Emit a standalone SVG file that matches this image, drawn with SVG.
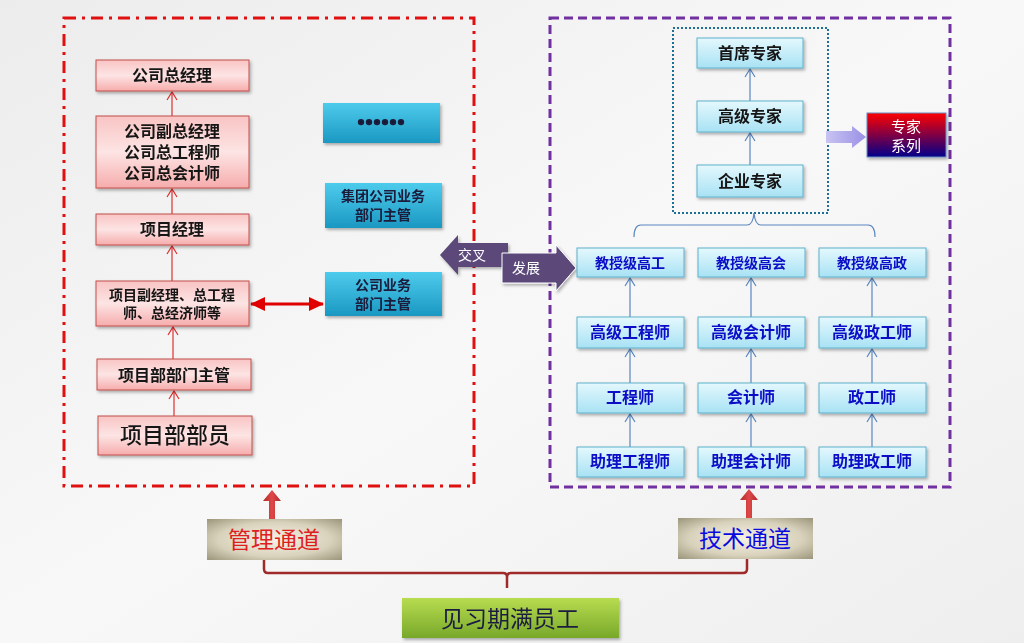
<svg xmlns="http://www.w3.org/2000/svg" width="1024" height="643" viewBox="0 0 1024 643">
<defs>
<linearGradient id="bg" x1="0" y1="0" x2="1" y2="1"><stop offset="0" stop-color="#ececec"/><stop offset="0.5" stop-color="#f8f8f8"/><stop offset="1" stop-color="#eeeeee"/></linearGradient>
<linearGradient id="pink" x1="0" y1="0" x2="0" y2="1"><stop offset="0" stop-color="#f9c4c4"/><stop offset="0.5" stop-color="#fde4e4"/><stop offset="1" stop-color="#f6acac"/></linearGradient>
<linearGradient id="lblue" x1="0" y1="0" x2="0" y2="1"><stop offset="0" stop-color="#e4f8fd"/><stop offset="1" stop-color="#a8e2f4"/></linearGradient>
<linearGradient id="cyan" x1="0" y1="0" x2="0" y2="1"><stop offset="0" stop-color="#4ecbec"/><stop offset="1" stop-color="#1a98c2"/></linearGradient>
<linearGradient id="expert" x1="0" y1="0" x2="0" y2="1"><stop offset="0" stop-color="#ff0000"/><stop offset="1" stop-color="#00008a"/></linearGradient>
<linearGradient id="green" x1="0" y1="0" x2="0" y2="1"><stop offset="0" stop-color="#b8dc50"/><stop offset="1" stop-color="#78a82a"/></linearGradient>
<linearGradient id="lav" x1="0" y1="0" x2="1" y2="0"><stop offset="0" stop-color="#c8c4f2"/><stop offset="1" stop-color="#9a90e6"/></linearGradient>
<linearGradient id="redarr" x1="0" y1="0" x2="1" y2="0"><stop offset="0" stop-color="#b02a2a"/><stop offset="0.5" stop-color="#e04848"/><stop offset="1" stop-color="#b02a2a"/></linearGradient>
<radialGradient id="khaki" cx="0.5" cy="0.5" r="0.7"><stop offset="0" stop-color="#f6f2e4"/><stop offset="0.6" stop-color="#d8d2bc"/><stop offset="1" stop-color="#9c967c"/></radialGradient>
<filter id="sh" x="-10%" y="-10%" width="130%" height="140%"><feDropShadow dx="1.5" dy="2" stdDeviation="1.5" flood-color="#000" flood-opacity="0.3"/></filter>
<marker id="openR" markerWidth="12" markerHeight="12" refX="10" refY="6" orient="auto" markerUnits="userSpaceOnUse"><path d="M2,1 L10,6 L2,11" fill="none" stroke="#e03030" stroke-width="1.2"/></marker>
<marker id="openB" markerWidth="12" markerHeight="12" refX="10" refY="6" orient="auto" markerUnits="userSpaceOnUse"><path d="M2,1 L10,6 L2,11" fill="none" stroke="#5a86c0" stroke-width="1.2"/></marker>
<marker id="fillR" markerWidth="16" markerHeight="14" refX="14" refY="7" orient="auto" markerUnits="userSpaceOnUse"><path d="M0,0 L15,7 L0,14 Z" fill="#e00000"/></marker>
<marker id="fillRs" markerWidth="16" markerHeight="14" refX="14" refY="7" orient="auto-start-reverse" markerUnits="userSpaceOnUse"><path d="M0,0 L15,7 L0,14 Z" fill="#e00000"/></marker>
</defs>
<style>
.t{font-family:"Noto Sans CJK SC","Noto Sans",sans-serif;text-anchor:middle}
.pk{fill:url(#pink);stroke:#c0504d;stroke-width:1}
.lb{fill:url(#lblue);stroke:#5fb2cc;stroke-width:1}
.cy{fill:url(#cyan)}
.tk{fill:#141414;font-weight:700}
.tb{fill:#0a0ac8;font-weight:700}
.tn{fill:#1a1a3a;font-weight:700}
.rl{stroke:#e03030;stroke-width:1.2;fill:none}
.bl{stroke:#5a86c0;stroke-width:1.2;fill:none}
</style>
<rect width="1024" height="643" fill="url(#bg)"/>

<g id="frames">
<rect x="64" y="18" width="410" height="468" fill="none" stroke="#e01010" stroke-width="3" stroke-dasharray="12 6 3 6"/>
<rect x="550" y="18" width="400" height="469" fill="none" stroke="#7030a0" stroke-width="3" stroke-dasharray="9 5"/>
<rect x="673" y="28" width="155" height="185" fill="none" stroke="#1f6e96" stroke-width="2" stroke-dasharray="2 2"/>
</g>

<g id="connectors">
<line class="rl" x1="172" y1="116" x2="172" y2="92" marker-end="url(#openR)"/>
<line class="rl" x1="172" y1="214" x2="172" y2="189" marker-end="url(#openR)"/>
<line class="rl" x1="172" y1="281" x2="172" y2="246" marker-end="url(#openR)"/>
<line class="rl" x1="173" y1="359" x2="173" y2="327" marker-end="url(#openR)"/>
<line class="rl" x1="174" y1="416" x2="174" y2="391" marker-end="url(#openR)"/>
<line x1="251" y1="304" x2="323" y2="304" stroke="#e00000" stroke-width="3" marker-start="url(#fillRs)" marker-end="url(#fillR)"/>
<line class="bl" x1="750" y1="101" x2="750" y2="69" marker-end="url(#openB)"/>
<line class="bl" x1="750" y1="165" x2="750" y2="133" marker-end="url(#openB)"/>
<path class="bl" d="M634,237 Q634,225 641,225 L747,225 Q753,225 754,213 Q755,225 761,225 L868,225 Q875,225 875,237"/>
<line class="bl" x1="630" y1="317" x2="630" y2="278" marker-end="url(#openB)"/>
<line class="bl" x1="630" y1="383" x2="630" y2="349" marker-end="url(#openB)"/>
<line class="bl" x1="630" y1="447" x2="630" y2="414" marker-end="url(#openB)"/>
<line class="bl" x1="751" y1="317" x2="751" y2="278" marker-end="url(#openB)"/>
<line class="bl" x1="751" y1="383" x2="751" y2="349" marker-end="url(#openB)"/>
<line class="bl" x1="751" y1="447" x2="751" y2="414" marker-end="url(#openB)"/>
<line class="bl" x1="872" y1="317" x2="872" y2="278" marker-end="url(#openB)"/>
<line class="bl" x1="872" y1="383" x2="872" y2="349" marker-end="url(#openB)"/>
<line class="bl" x1="872" y1="447" x2="872" y2="414" marker-end="url(#openB)"/>
<polygon points="826,131 852,131 852,126 866,137 852,148 852,143 826,143" fill="url(#lav)"/>
<polygon points="269,519 275,519 275,501 281,501 272,490 263,501 269,501" fill="url(#redarr)"/>
<polygon points="746,518 752,518 752,500 758,500 749,489 740,500 746,500" fill="url(#redarr)"/>
<path d="M264,559 V569 Q264,573 268,573 H503 Q507,573 507,577 Q507,573 511,573 H743 Q747,573 747,569 V559 M507,575 V588" fill="none" stroke="#9e2a2a" stroke-width="2.5"/>
</g>

<g id="cross" filter="url(#sh)">
<polygon points="440,255 458,235 458,243 508,243 508,267 458,267 458,275" fill="#5b4a7a"/>
<text class="t" x="472" y="260" font-size="14" fill="#fff">交叉</text>
</g>
<g id="develop" filter="url(#sh)">
<polygon points="502,253 556,253 556,245 576,268 556,291 556,283 502,283" fill="#5b4a7a" stroke="#fff" stroke-width="1"/>
<text class="t" x="526" y="273" font-size="14" fill="#fff">发展</text>
</g>

<g id="n-gm" filter="url(#sh)"><rect class="pk" x="96" y="60" width="153" height="31"/><text class="t tk" x="172" y="81" font-size="16">公司总经理</text></g>
<g id="n-vp" filter="url(#sh)"><rect class="pk" x="96" y="116" width="153" height="72"/>
<text class="t tk" font-size="16"><tspan x="172" y="137">公司副总经理</tspan><tspan x="172" y="158">公司总工程师</tspan><tspan x="172" y="179">公司总会计师</tspan></text></g>
<g id="n-pm" filter="url(#sh)"><rect class="pk" x="96" y="214" width="153" height="31"/><text class="t tk" x="172" y="235" font-size="16">项目经理</text></g>
<g id="n-dpm" filter="url(#sh)"><rect class="pk" x="96" y="281" width="153" height="45"/>
<text class="t tk" x="172" y="300" font-size="14">项目副经理、总工程</text>
<text class="t tk" x="172" y="318" font-size="14">师、总经济师等</text></g>
<g id="n-dept" filter="url(#sh)"><rect class="pk" x="97" y="359" width="154" height="31"/><text class="t tk" x="174" y="381" font-size="16">项目部部门主管</text></g>
<g id="n-staff" filter="url(#sh)"><rect class="pk" x="98" y="416" width="154" height="39"/><text class="t" x="175" y="443" font-size="22" fill="#141414" font-weight="500">项目部部员</text></g>

<g id="n-dots" filter="url(#sh)"><rect class="cy" x="323" y="103" width="117" height="40"/><text class="t tn" x="381" y="131" font-size="24" stroke="#1a1a3a" stroke-width="2.5" stroke-linejoin="round">……</text></g>
<g id="n-group" filter="url(#sh)"><rect class="cy" x="325" y="183" width="117" height="45"/>
<text class="t tn" x="383" y="201" font-size="14">集团公司业务</text>
<text class="t tn" x="383" y="220" font-size="14">部门主管</text></g>
<g id="n-corp" filter="url(#sh)"><rect class="cy" x="325" y="272" width="117" height="44"/>
<text class="t tn" x="383" y="290" font-size="14">公司业务</text>
<text class="t tn" x="383" y="309" font-size="14">部门主管</text></g>

<g id="n-chief" filter="url(#sh)"><rect class="lb" x="697" y="38" width="106" height="30"/><text class="t tk" x="750" y="59" font-size="16">首席专家</text></g>
<g id="n-senior" filter="url(#sh)"><rect class="lb" x="697" y="101" width="106" height="31"/><text class="t tk" x="750" y="122" font-size="16">高级专家</text></g>
<g id="n-ent" filter="url(#sh)"><rect class="lb" x="697" y="165" width="106" height="32"/><text class="t tk" x="750" y="187" font-size="16">企业专家</text></g>
<g id="n-expert" filter="url(#sh)"><rect x="867" y="113" width="79" height="44" fill="url(#expert)" stroke="#6a8cc0" stroke-width="1"/>
<text class="t" x="906" y="132" font-size="15" fill="#fff">专家</text>
<text class="t" x="906" y="151" font-size="15" fill="#fff">系列</text></g>

<g id="n-r1c1" filter="url(#sh)"><rect class="lb" x="577" y="248" width="107" height="29"/><text class="t tb" x="630" y="268" font-size="14">教授级高工</text></g>
<g id="n-r1c2" filter="url(#sh)"><rect class="lb" x="698" y="248" width="107" height="29"/><text class="t tb" x="751" y="268" font-size="14">教授级高会</text></g>
<g id="n-r1c3" filter="url(#sh)"><rect class="lb" x="819" y="248" width="107" height="29"/><text class="t tb" x="872" y="268" font-size="14">教授级高政</text></g>
<g id="n-r2c1" filter="url(#sh)"><rect class="lb" x="577" y="317" width="107" height="31"/><text class="t tb" x="630" y="338" font-size="16">高级工程师</text></g>
<g id="n-r2c2" filter="url(#sh)"><rect class="lb" x="698" y="317" width="107" height="31"/><text class="t tb" x="751" y="338" font-size="16">高级会计师</text></g>
<g id="n-r2c3" filter="url(#sh)"><rect class="lb" x="819" y="317" width="107" height="31"/><text class="t tb" x="872" y="338" font-size="16">高级政工师</text></g>
<g id="n-r3c1" filter="url(#sh)"><rect class="lb" x="577" y="383" width="107" height="30"/><text class="t tb" x="630" y="403" font-size="16">工程师</text></g>
<g id="n-r3c2" filter="url(#sh)"><rect class="lb" x="698" y="383" width="107" height="30"/><text class="t tb" x="751" y="403" font-size="16">会计师</text></g>
<g id="n-r3c3" filter="url(#sh)"><rect class="lb" x="819" y="383" width="107" height="30"/><text class="t tb" x="872" y="403" font-size="16">政工师</text></g>
<g id="n-r4c1" filter="url(#sh)"><rect class="lb" x="577" y="447" width="107" height="30"/><text class="t tb" x="630" y="467" font-size="16">助理工程师</text></g>
<g id="n-r4c2" filter="url(#sh)"><rect class="lb" x="698" y="447" width="107" height="30"/><text class="t tb" x="751" y="467" font-size="16">助理会计师</text></g>
<g id="n-r4c3" filter="url(#sh)"><rect class="lb" x="819" y="447" width="107" height="30"/><text class="t tb" x="872" y="467" font-size="16">助理政工师</text></g>

<g id="n-mgmt"><rect x="207" y="519" width="135" height="41" fill="url(#khaki)"/><text class="t" x="274" y="548" font-size="23" fill="#e02020">管理通道</text></g>
<g id="n-tech"><rect x="678" y="518" width="135" height="41" fill="url(#khaki)"/><text class="t" x="745" y="547" font-size="23" fill="#0a0ae0">技术通道</text></g>
<g id="n-trainee" filter="url(#sh)"><rect x="402" y="598" width="217" height="40" fill="url(#green)"/><text class="t" x="510" y="627" font-size="23" fill="#1a1a40">见习期满员工</text></g>
</svg>
